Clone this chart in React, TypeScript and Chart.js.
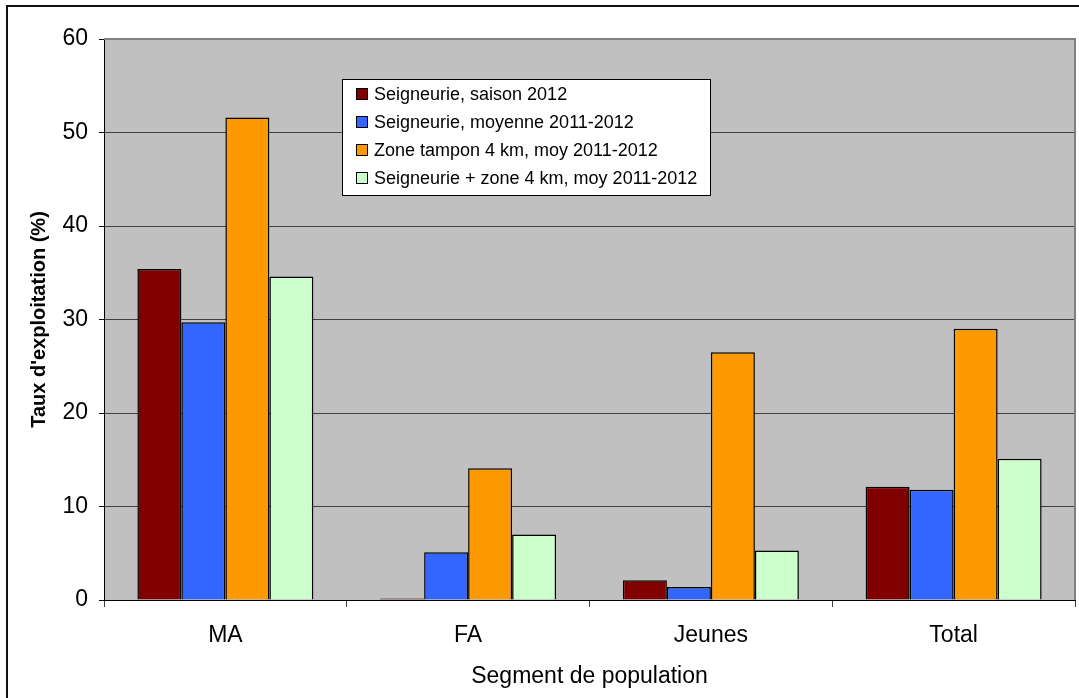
import React, { useEffect, useRef } from "react";
import { Chart, registerables } from "chart.js";

Chart.register(...registerables);

const categories = ["MA", "FA", "Jeunes", "Total"];
const seriesLabels = [
  "Seigneurie, saison 2012",
  "Seigneurie, moyenne 2011-2012",
  "Zone tampon 4 km, moy 2011-2012",
  "Seigneurie + zone 4 km, moy 2011-2012",
];
const saison2012 = [35.4, 0.15, 2.1, 12.1];
const moyenne20112012 = [29.7, 5.1, 1.4, 11.8];
const zoneTampon = [51.6, 14.1, 26.5, 29.0];
const seigneurieZone = [34.6, 7.0, 5.3, 15.1];
const seriesColors = ["#800000", "#3366FF", "#FF9900", "#CCFFCC"];
const yTicks = [0, 10, 20, 30, 40, 50, 60];

const FONT = "Arial, 'Liberation Sans', sans-serif";

const plotBg = {
  id: "plotBg",
  beforeDraw(chart: any) {
    const { ctx, chartArea: a } = chart;
    ctx.save();
    ctx.fillStyle = "#C0C0C0";
    ctx.fillRect(a.left, a.top, a.right - a.left, a.bottom - a.top);
    ctx.restore();
  },
  afterDraw(chart: any) {
    const { ctx, chartArea: a } = chart;
    ctx.save();
    ctx.strokeStyle = "#808080";
    ctx.lineWidth = 2;
    ctx.beginPath();
    ctx.moveTo(a.left, a.top);
    ctx.lineTo(a.right, a.top);
    ctx.lineTo(a.right, a.bottom);
    ctx.stroke();
    ctx.restore();
  },
};

const boxLegend = {
  id: "boxLegend",
  afterDraw(chart: any) {
    const { ctx } = chart;
    const x0 = 342, y0 = 79, w = 368, h = 116;
    ctx.save();
    ctx.fillStyle = "#FFFFFF";
    ctx.fillRect(x0, y0, w, h);
    ctx.strokeStyle = "#000000";
    ctx.lineWidth = 1;
    ctx.strokeRect(x0 + 0.5, y0 + 0.5, w, h);
    ctx.font = `18px ${FONT}`;
    ctx.textBaseline = "alphabetic";
    ctx.textAlign = "left";
    chart.data.datasets.forEach((ds: any, i: number) => {
      const base = 100 + i * 28;
      ctx.fillStyle = ds.backgroundColor;
      ctx.fillRect(356, base - 12, 12, 12);
      ctx.strokeStyle = "#000";
      ctx.lineWidth = 1;
      ctx.strokeRect(356.5, base - 11.5, 11, 11);
      ctx.fillStyle = "#000";
      ctx.fillText(ds.label, 374, base);
    });
    ctx.restore();
  },
};

export default function App() {
  const ref = useRef<HTMLCanvasElement>(null);
  useEffect(() => {
    if (!ref.current) return;
    const values = [saison2012, moyenne20112012, zoneTampon, seigneurieZone];
    const chart = new Chart(ref.current, {
      type: "bar",
      data: {
        labels: categories,
        datasets: values.map((v, i) => ({
          label: seriesLabels[i],
          data: v,
          backgroundColor: seriesColors[i],
          borderColor: "#000000",
          borderWidth: 1.5,
          barPercentage: 1,
          categoryPercentage: 0.725,
        })),
      },
      options: {
        animation: false,
        responsive: false,
        devicePixelRatio: 1,
        layout: { padding: { left: 0, right: 4, top: 39, bottom: 0 } },
        plugins: {
          legend: { display: false },
          tooltip: { enabled: false },
        },
        scales: {
          x: {
            afterFit(scale: any) {
              scale.height = 98;
            },
            grid: {
              display: true,
              drawOnChartArea: false,
              tickLength: 7,
              tickColor: "#404040",
              offset: true,
            },
            border: { display: true, color: "#000000", width: 1 },
            ticks: {
              color: "#000",
              font: { family: FONT, size: 23 },
              padding: 15,
            },
            title: {
              display: true,
              text: "Segment de population",
              color: "#000",
              font: { family: FONT, size: 23 },
              padding: { top: 0, bottom: 8 },
            },
          },
          y: {
            min: 0,
            max: 60,
            afterFit(scale: any) {
              scale.width = 104;
            },
            afterBuildTicks(scale: any) {
              scale.ticks = yTicks.map((v) => ({ value: v }));
            },
            grid: {
              color: (c: any) => (c.tick && c.tick.value === 60 ? "rgba(0,0,0,0)" : "#404040"),
              lineWidth: 1,
              tickLength: 5,
              tickColor: "#000000",
            },
            border: { display: true, color: "#000000", width: 1 },
            ticks: {
              color: "#000",
              font: { family: FONT, size: 23 },
              padding: 11,
            },
            title: {
              display: true,
              text: "Taux d'exploitation (%)",
              color: "#000",
              font: { family: FONT, size: 20, weight: "bold" },
              padding: { top: 27, bottom: 0 },
            },
          },
        },
      },
      plugins: [plotBg, boxLegend],
    });
    return () => chart.destroy();
  }, []);

  return (
    <div style={{ position: "absolute", left: 0, top: 0, width: 1079, height: 698, background: "#fff", overflow: "hidden" }}>
      <canvas ref={ref} width={1079} height={698} style={{ position: "absolute", left: 0, top: 0, width: 1079, height: 698 }} />
      <div
        style={{
          position: "absolute",
          left: 6,
          top: 5,
          width: 1100,
          height: 720,
          borderLeft: "2px solid #111",
          borderTop: "2px solid #111",
          pointerEvents: "none",
        }}
      />
    </div>
  );
}
